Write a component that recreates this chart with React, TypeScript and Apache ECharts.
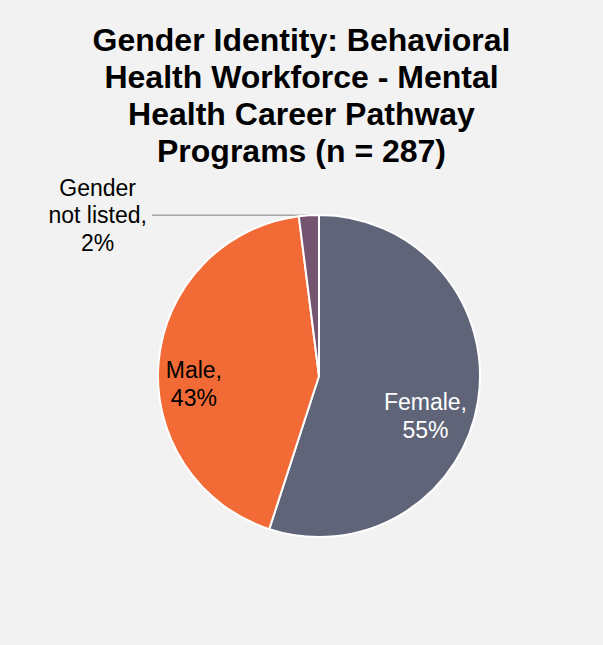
import React, { useEffect, useRef } from "react";
import * as echarts from "echarts";

const titleLines = [
  "Gender Identity: Behavioral",
  "Health Workforce - Mental",
  "Health Career Pathway",
  "Programs (n = 287)",
];
const categories = ["Female", "Male", "Gender not listed"];
const percents = [55, 43, 2];
const sliceColors = ["#5f6478", "#f26b36", "#745470"];
const labelColors = ["#ffffff", "#000000", "#000000"];
// label nudges (style) relative to ECharts default inside position
const labelNudges = [
  [24, 27],
  [-42, 16],
  [0, 0],
];

export default function App() {
  const ref = useRef<HTMLDivElement>(null);
  useEffect(() => {
    if (!ref.current) return;
    const chart = echarts.init(ref.current, null, { renderer: "svg" });
    const font = "'Liberation Sans', Arial, sans-serif";
    const data = categories.map((name, i) => {
      const outside = i === 2;
      return {
        name,
        value: percents[i],
        itemStyle: { color: sliceColors[i] },
        label: outside
          ? {
              position: "outside",
              formatter: "{a|Gender}\n{a|not listed,}\n{a|{d}%}",
              rich: {
                a: {
                  align: "center",
                  fontSize: 23,
                  lineHeight: 27.5,
                  color: labelColors[i],
                  fontFamily: font,
                },
              },
              distanceToLabelLine: 5,
            }
          : {
              position: "inside",
              formatter: "{b},\n{d}%",
              color: labelColors[i],
              align: "center",
            },
        labelLine: outside
          ? {
              show: true,
              length: 0,
              length2: 157,
              lineStyle: { color: "#a6a6a6", width: 1.5 },
            }
          : { show: false },
      };
    });
    chart.setOption({
      animation: false,
      backgroundColor: "#f2f2f2",
      title: {
        text: titleLines.join("\n"),
        left: "center",
        top: 16,
        textStyle: {
          fontFamily: font,
          fontSize: 32,
          fontWeight: "bold",
          lineHeight: 37,
          color: "#000000",
        },
      },
      series: [
        {
          type: "pie",
          center: [319, 376],
          radius: 161,
          startAngle: 90,
          clockwise: true,
          avoidLabelOverlap: false,
          data,
          itemStyle: { borderColor: "#ffffff", borderWidth: 2 },
          label: {
            fontFamily: font,
            fontSize: 23,
            lineHeight: 27.5,
          },
          emphasis: { disabled: true },
          labelLayout: (params: any) => {
            const n = labelNudges[params.dataIndex];
            if (!n || (n[0] === 0 && n[1] === 0)) return {};
            return { dx: n[0], dy: n[1] };
          },
        },
      ],
    });
    return () => chart.dispose();
  }, []);
  return (
    <div
      ref={ref}
      style={{ position: "absolute", left: 0, top: 0, width: 603, height: 645 }}
    />
  );
}
